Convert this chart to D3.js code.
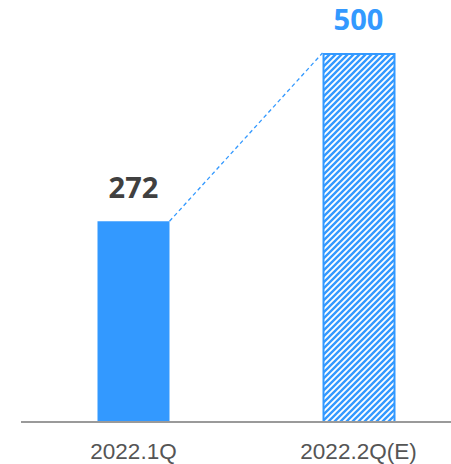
<!DOCTYPE html>
<html>
<head>
<meta charset="utf-8">
<script src="https://cdn.jsdelivr.net/npm/d3@7"></script>
<style>
  html, body { margin: 0; padding: 0; background: #fff; }
  svg { display: block; }
</style>
</head>
<body>
<div id="chart"></div>
<script>
// Quarterly figures: actual for 1Q, estimate for 2Q
const categories = ["2022.1Q", "2022.2Q(E)"];
const values = [272, 500];
const estimated = [false, true];

const width = 451, height = 464;
const baseY = 422;
const blue = "#3399ff";

const svg = d3.select("#chart").append("svg")
  .attr("width", width)
  .attr("height", height);

// diagonal hatch for the estimated bar
const hp = 6;
const defs = svg.append("defs");
const pat = defs.append("pattern")
  .attr("id", "hatch")
  .attr("patternUnits", "userSpaceOnUse")
  .attr("width", hp)
  .attr("height", hp);
pat.append("rect").attr("width", hp).attr("height", hp).attr("fill", "#fff");
pat.append("path")
  .attr("d", `M-2,2 L2,-2 M0,${hp} L${hp},0 M${hp - 2},${hp + 2} L${hp + 2},${hp - 2}`)
  .attr("stroke", blue)
  .attr("stroke-width", 2.4);

const x = d3.scaleBand()
  .domain(categories)
  .range([21, 471])
  .paddingInner(0.68)
  .paddingOuter(0.34);

const y = d3.scaleLinear()
  .domain([0, 500])
  .range([baseY, 53]);

const data = categories.map((c, i) => ({ cat: c, value: values[i], est: estimated[i] }));

// connector from top of the actual bar to top of the estimate
const a = data[0], b = data[1];
svg.append("line")
  .attr("x1", x(a.cat) + x.bandwidth())
  .attr("y1", y(a.value))
  .attr("x2", x(b.cat))
  .attr("y2", y(b.value))
  .attr("stroke", blue)
  .attr("stroke-width", 1.3)
  .attr("stroke-dasharray", "4,3");

// bars
svg.selectAll("rect.bar")
  .data(data)
  .enter().append("rect")
  .attr("class", "bar")
  .attr("x", d => d.est ? x(d.cat) + 1 : x(d.cat))
  .attr("y", d => d.est ? y(d.value) + 1 : y(d.value))
  .attr("width", d => d.est ? x.bandwidth() - 1 : x.bandwidth())
  .attr("height", d => d.est ? baseY - y(d.value) - 1 : baseY - y(d.value))
  .attr("fill", d => d.est ? "url(#hatch)" : blue)
  .attr("stroke", d => d.est ? blue : "none")
  .attr("stroke-width", 2);

// value labels
svg.selectAll("text.val")
  .data(data)
  .enter().append("text")
  .attr("class", "val")
  .attr("x", d => x(d.cat) + x.bandwidth() / 2)
  .attr("y", d => y(d.value) - 23)
  .attr("text-anchor", "middle")
  .attr("font-family", "'Noto Sans', sans-serif")
  .attr("font-weight", "bold")
  .attr("font-size", 29)
  .attr("fill", d => d.est ? blue : "#404040")
  .text(d => d.value);

// baseline
svg.append("line")
  .attr("x1", 21).attr("x2", width)
  .attr("y1", baseY).attr("y2", baseY)
  .attr("stroke", "#9a9a9a")
  .attr("stroke-width", 2);

// category labels
svg.selectAll("text.cat")
  .data(data)
  .enter().append("text")
  .attr("class", "cat")
  .attr("x", d => x(d.cat) + x.bandwidth() / 2)
  .attr("y", 459)
  .attr("text-anchor", "middle")
  .attr("font-family", "'Liberation Sans', Arial, sans-serif")
  .attr("font-size", 22.5)
  .attr("fill", "#555")
  .text(d => d.cat);
</script>
</body>
</html>
